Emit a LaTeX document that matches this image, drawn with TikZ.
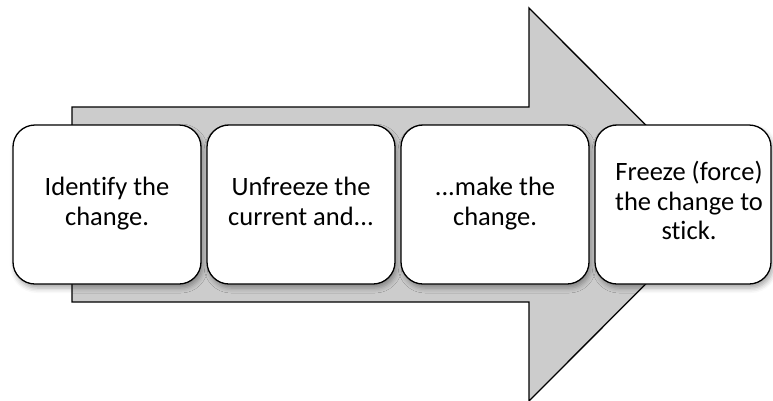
\documentclass[tikz,border=0pt]{standalone}
\usepackage{fontspec}
\setmainfont{Carlito}[Ligatures={NoCommon}]
\usetikzlibrary{shadows.blur}
\tikzset{
  stepbox/.style={draw=black, line width=1.3pt, fill=white, rounded corners=22pt,
    minimum width=188pt, minimum height=159pt, inner sep=0pt,
    blur shadow={shadow xshift=2pt, shadow yshift=-4pt, shadow blur radius=5pt, shadow opacity=35}},
  steptext/.style={align=center, font=\fontsize{26.5pt}{29.5pt}\selectfont, text=black, inner sep=0pt},
  bigarrow/.style={draw=black, line width=1.3pt, fill=black!20}
}
\begin{document}
\begin{tikzpicture}[x=1pt, y=-1pt]
\useasboundingbox (0,0) rectangle (773,400);
\draw[bigarrow] (72,107) -- (529,107) -- (529,8) -- (725,204.5) -- (529,401) -- (529,302) -- (72,302) -- cycle;
\node[stepbox] (b1) at (107,204.5) {};
\node[steptext] (t1) at (b1.center) {\strut Identify the\\change.\strut};
\node[stepbox] (b2) at (301,204.5) {};
\node[steptext] (t2) at (b2.center) {\strut Unfreeze the\\current and...\strut};
\node[stepbox] (b3) at (495,204.5) {};
\node[steptext] (t3) at (b3.center) {\strut ...make the\\change.\strut};
\node[stepbox, minimum width=176pt] (b4) at (683,204.5) {};
\node[steptext] (t4) at ([xshift=6pt]b4.center) {\strut Freeze (force)\\the change to\\stick.\strut};
\end{tikzpicture}
\end{document}
